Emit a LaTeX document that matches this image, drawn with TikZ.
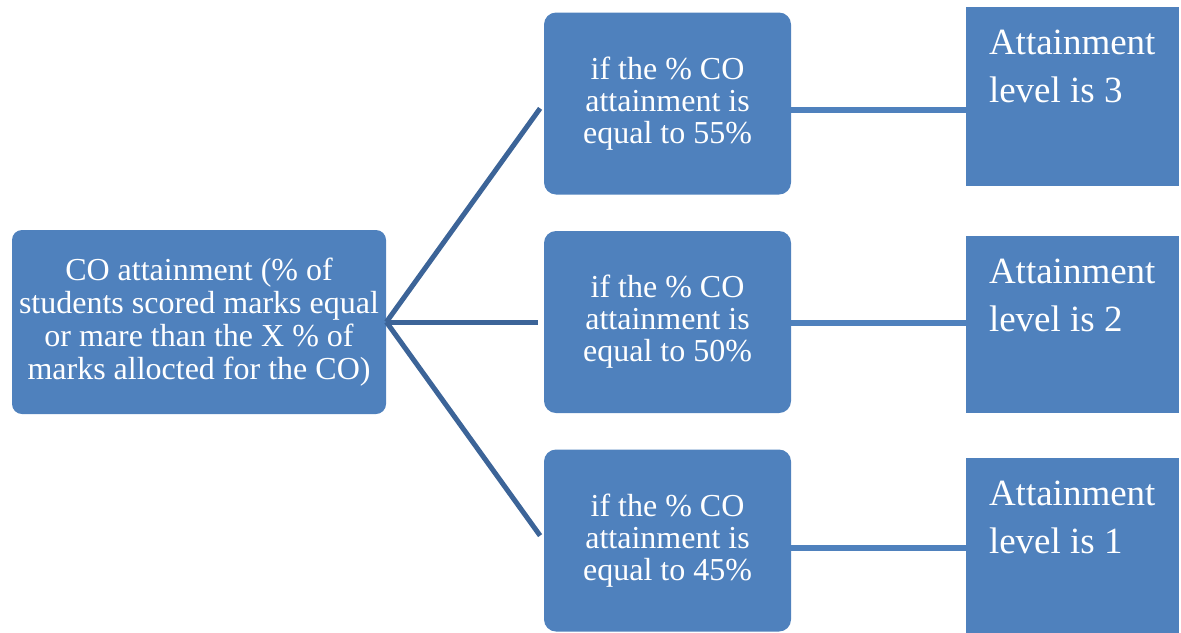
\documentclass[tikz,border=0pt]{standalone}
\usepackage{fontspec}
\setmainfont{Liberation Serif}
\definecolor{boxBlue}{HTML}{4F81BD}
\definecolor{lineBlue}{HTML}{3C6498}
\usetikzlibrary{calc}

\begin{document}
\begin{tikzpicture}[x=0.5pt, y=-0.5pt,
  cobox/.style={fill=boxBlue, rounded corners=5pt, text=white, align=center, inner sep=0pt, font=\fontsize{16}{16.5}\selectfont},
  condbox/.style={fill=boxBlue, rounded corners=6pt, text=white, align=center, inner sep=0pt, minimum width=123.5pt, minimum height=91pt, font=\fontsize{16}{16}\selectfont},
  lvlbox/.style={fill=boxBlue, inner sep=0pt, minimum width=106.5pt},
  lvltext/.style={text=white, align=left, inner sep=0pt, anchor=north west, font=\fontsize{18.5}{24}\selectfont}]
\useasboundingbox (0,0) rectangle (1181,632);
\node[cobox, minimum width=187pt, minimum height=92pt] (co) at (199,322) {CO attainment (\% of\\ students scored marks equal\\ or mare than the X \% of\\ marks allocted for the CO)};
\node[condbox] (c55) at (667.5,103.5) {if the \% CO\\ attainment is\\ equal to 55\%};
\node[condbox] (c50) at (667.5,322) {if the \% CO\\ attainment is\\ equal to 50\%};
\node[condbox] (c45) at (667.5,540.5) {if the \% CO\\ attainment is\\ equal to 45\%};
\node[lvlbox, minimum height=89.5pt] (l3) at (1072.5,96.5) {};
\node[lvlbox, minimum height=88.5pt] (l2) at (1072.5,324.5) {};
\node[lvlbox, minimum height=91pt] (l1) at (1072.5,549) {};
\node[lvltext] (t3) at ($(l3.north west)+(23,23)$) {Attainment\\ level is 3};
\node[lvltext] (t2) at ($(l2.north west)+(23,23)$) {Attainment\\ level is 2};
\node[lvltext] (t1) at ($(l1.north west)+(23,23)$) {Attainment\\ level is 1};
\foreach \c in {c55,c50,c45}
  \draw[lineBlue, line width=2.5pt, shorten >=3pt] (co.east) -- (\c.west);
\foreach \c/\l/\s in {c55/l3/-3.25pt, c50/l2/-0.5pt, c45/l1/-3.75pt}
  \draw[boxBlue, line width=2.75pt] ([yshift=\s]\c.east) -- ([yshift=\s]\c.east -| \l.west);
\end{tikzpicture}
\end{document}
